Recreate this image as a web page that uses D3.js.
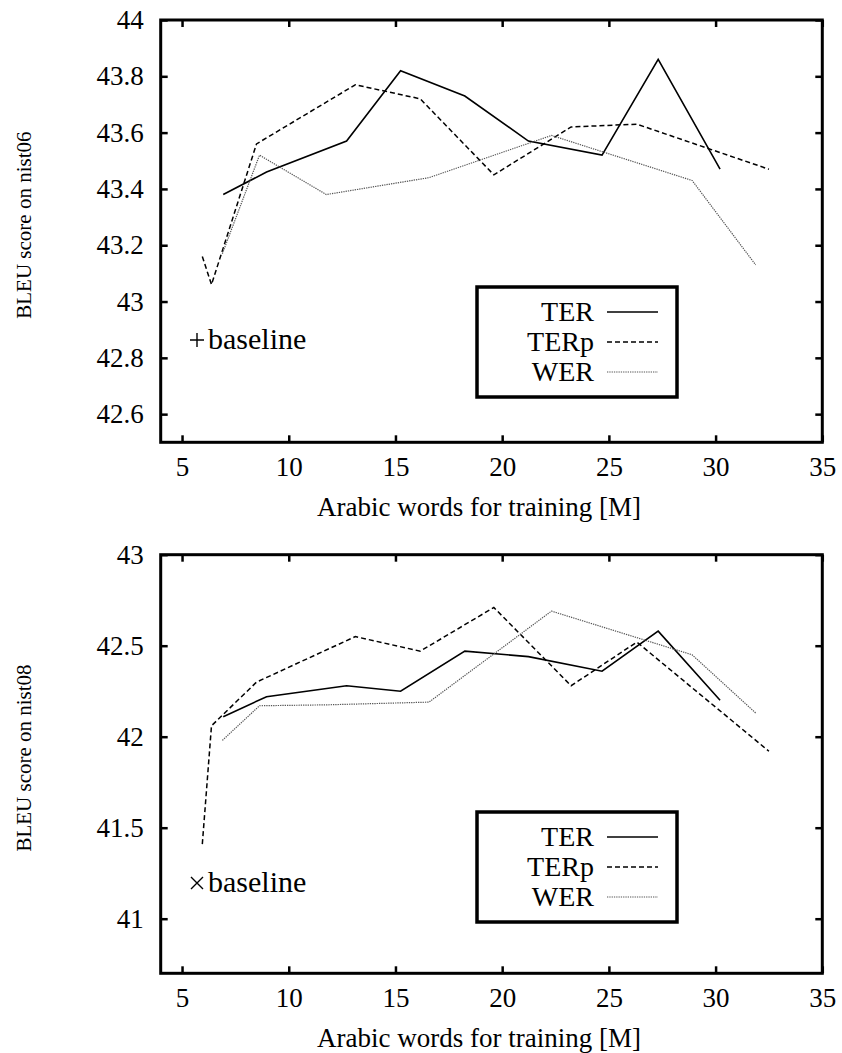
<!DOCTYPE html>
<html><head><meta charset="utf-8">
<script src="https://cdn.jsdelivr.net/npm/d3@7"></script>
<style>
body{margin:0;background:#fff}
svg{display:block}
text{font-family:"Liberation Serif","Times New Roman",serif;fill:#000}
</style>
</head><body>
<svg id="c" width="842" height="1053"></svg>
<script>
// ---- data ----
const seriesNames = ["TER", "TERp", "WER"];
const xTicks = [5, 10, 15, 20, 25, 30, 35];
const yTicksTop = [42.6, 42.8, 43, 43.2, 43.4, 43.6, 43.8, 44];
const yTicksBottom = [41, 41.5, 42, 42.5, 43];
const terX  = [6.93, 8.96, 12.71, 15.24, 18.25, 21.23, 24.68, 27.31, 30.21];
const terpX = [5.95, 6.38, 8.49, 13.12, 16.16, 19.61, 23.23, 26.31, 32.5];
const werX  = [6.89, 8.63, 11.76, 16.57, 22.31, 28.9, 31.88];
const nist06TER  = [43.38, 43.46, 43.57, 43.82, 43.73, 43.57, 43.52, 43.86, 43.47];
const nist06TERp = [43.16, 43.06, 43.56, 43.77, 43.72, 43.45, 43.62, 43.63, 43.47];
const nist06WER  = [43.17, 43.52, 43.38, 43.44, 43.59, 43.43, 43.13];
const nist08TER  = [42.11, 42.22, 42.28, 42.25, 42.47, 42.44, 42.36, 42.58, 42.20];
const nist08TERp = [41.41, 42.06, 42.30, 42.55, 42.47, 42.71, 42.28, 42.52, 41.92];
const nist08WER  = [41.98, 42.17, 42.175, 42.19, 42.69, 42.45, 42.13];

const svg = d3.select("#c");
const FS = 27;
const styles = {
  TER:  {stroke: "#000", width: 1.6, dash: null},
  TERp: {stroke: "#000", width: 1.5, dash: "5,3"},
  WER:  {stroke: "#555", width: 1.2, dash: "1.3,1"}
};

function panel(cfg) {
  const x = d3.scaleLinear().domain([4, 35]).range([160.7, 822.3]);
  const y = d3.scaleLinear().domain(cfg.yDomain).range(cfg.yRange);
  const g = svg.append("g");
  const fmt = d => String(+d.toFixed(1));

  const axB = g.append("g").attr("transform", `translate(0,${cfg.yRange[0]})`)
    .call(d3.axisBottom(x).tickValues(xTicks).tickSize(-7).tickPadding(15).tickFormat(d3.format("d")));
  const axT = g.append("g").attr("transform", `translate(0,${cfg.yRange[1]})`)
    .call(d3.axisTop(x).tickValues(xTicks).tickSize(-7).tickFormat(""));
  const axL = g.append("g").attr("transform", `translate(160.7,0)`)
    .call(d3.axisLeft(y).tickValues(cfg.yTicks).tickSize(-7).tickPadding(17).tickFormat(fmt));
  const axR = g.append("g").attr("transform", `translate(822.3,0)`)
    .call(d3.axisRight(y).tickValues(cfg.yTicks).tickSize(-7).tickFormat(""));
  [axB, axT, axL, axR].forEach(a => {
    a.select(".domain").remove();
    a.selectAll(".tick line").attr("stroke", "#000").attr("stroke-width", 2.5);
    a.selectAll(".tick text").attr("font-size", FS).attr("font-family", "Liberation Serif").attr("fill", "#000");
  });

  g.append("rect").attr("x", 160.7).attr("y", cfg.yRange[1])
    .attr("width", 822.3 - 160.7).attr("height", cfg.yRange[0] - cfg.yRange[1])
    .attr("fill", "none").attr("stroke", "#000").attr("stroke-width", 3);

  const line = d3.line().x(d => x(d[0])).y(d => y(d[1]));
  cfg.series.forEach(s => {
    const st = styles[s.name];
    g.append("path").datum(s.xs.map((v, i) => [v, s.ys[i]]))
      .attr("d", line).attr("fill", "none")
      .attr("stroke", st.stroke).attr("stroke-width", st.width)
      .attr("stroke-dasharray", st.dash);
  });

  // axis titles
  g.append("text").attr("x", 479).attr("y", cfg.yRange[0] + 74)
    .attr("text-anchor", "middle").attr("font-size", FS).text("Arabic words for training [M]");
  const cy = (cfg.yRange[0] + cfg.yRange[1]) / 2 - 6;
  g.append("text").attr("transform", `translate(31,${cy}) rotate(-90)`)
    .attr("text-anchor", "middle").attr("font-size", 21).text(cfg.yLabel);

  // baseline key
  const bx = 197, by = cfg.baseY;
  const sym = g.append("path").attr("fill", "none").attr("stroke", "#000").attr("stroke-width", 1.4);
  if (cfg.baseSym === "plus") sym.attr("d", `M${bx-7},${by}H${bx+7}M${bx},${by-7}V${by+7}`);
  else sym.attr("d", `M${bx-6},${by-6}L${bx+6},${by+6}M${bx-6},${by+6}L${bx+6},${by-6}`);
  g.append("text").attr("x", bx + 11).attr("y", by + 9).attr("font-size", 30).text("baseline");

  // legend
  const lg = g.append("g");
  lg.append("rect").attr("x", 477).attr("y", cfg.legY).attr("width", 200).attr("height", 110)
    .attr("fill", "#fff").attr("stroke", "#000").attr("stroke-width", 3.5);
  seriesNames.forEach((n, i) => {
    const ry = cfg.legY + 25 + i * 30;
    lg.append("text").attr("x", 594).attr("y", ry + 9).attr("text-anchor", "end").attr("font-size", 28).text(n);
    const st = styles[n];
    lg.append("line").attr("x1", 607).attr("x2", 658).attr("y1", ry).attr("y2", ry)
      .attr("stroke", st.stroke).attr("stroke-width", st.width).attr("stroke-dasharray", st.dash);
  });
}

panel({
  yDomain: [42.5, 44], yRange: [442.3, 20], yTicks: yTicksTop, yLabel: "BLEU score on nist06",
  baseSym: "plus", baseY: 340, legY: 287,
  series: [
    {name: "TER", xs: terX, ys: nist06TER},
    {name: "TERp", xs: terpX, ys: nist06TERp},
    {name: "WER", xs: werX, ys: nist06WER}
  ]
});
panel({
  yDomain: [40.7, 43], yRange: [973.3, 554.7], yTicks: yTicksBottom, yLabel: "BLEU score on nist08",
  baseSym: "cross", baseY: 883, legY: 812,
  series: [
    {name: "TER", xs: terX, ys: nist08TER},
    {name: "TERp", xs: terpX, ys: nist08TERp},
    {name: "WER", xs: werX, ys: nist08WER}
  ]
});
</script>
</body></html>
